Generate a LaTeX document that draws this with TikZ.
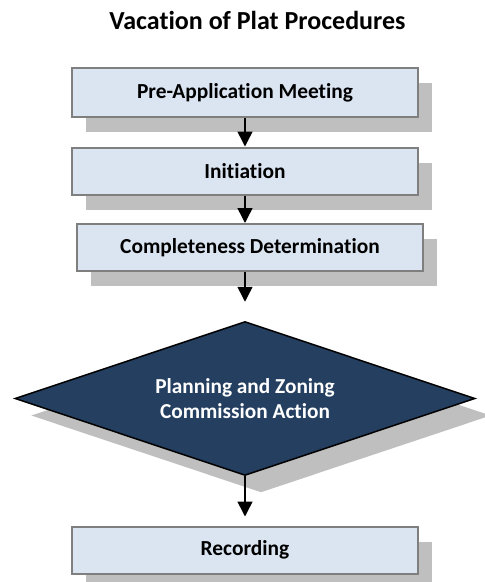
\documentclass[tikz,border=0pt]{standalone}
\usepackage{fontspec}
\setmainfont{Carlito}[Ligatures=NoCommon]
\usetikzlibrary{shapes.geometric,shadows,arrows.meta}

\definecolor{boxfill}{HTML}{DBE5F1}
\definecolor{boxline}{HTML}{7F7F7F}
\definecolor{shade}{HTML}{BFBFBF}
\definecolor{navy}{HTML}{243F60}

\tikzset{
  stage/.style={rectangle, draw=boxline, line width=2pt, fill=boxfill,
    minimum width=346pt, minimum height=47pt,
    font=\fontsize{21.4}{25}\selectfont\bfseries,
    drop shadow={shadow xshift=14pt, shadow yshift=-15pt, fill=shade, opacity=1}},
  decision/.style={diamond, aspect=3, draw=black, line width=1.5pt, fill=navy, text=white,
    minimum width=460pt, minimum height=154pt, inner sep=0pt, align=center,
    font=\fontsize{21.3}{25}\selectfont\bfseries,
    drop shadow={shadow xshift=16pt, shadow yshift=-17pt, fill=shade, opacity=1}},
  flow/.style={-{Triangle[length=15pt,width=15pt]}, line width=1.5pt}
}

\begin{document}
\begin{tikzpicture}[x=1pt,y=-1pt]
  \useasboundingbox (0,0) rectangle (485,582);

  \node[font=\fontsize{26}{30}\selectfont\bfseries, anchor=base, inner sep=0pt] (title) at (257.5,29) {Vacation of Plat Procedures};

  % steps of the procedure
  \node[stage, minimum height=49pt] (meeting) at (245,92.5) {Pre-Application Meeting};
  \node[stage] (initiation) at (245,171) {Initiation};
  \node[stage] (complete) at (250,247.5) {Completeness Determination};
  \node[decision] (action) at (245,398.5) {Planning and Zoning\\Commission Action};
  \node[stage] (recording) at (245,550) {Recording};

  % connectors
  \draw[flow] (meeting) -- (initiation);
  \draw[flow] (initiation.south) -- (initiation.south |- complete.north);
  \draw[flow, shorten >=19pt] (action.north |- complete.south) -- (action.north);
  \draw[flow, shorten >=9pt] (action.south) -- (recording.north);
\end{tikzpicture}
\end{document}
